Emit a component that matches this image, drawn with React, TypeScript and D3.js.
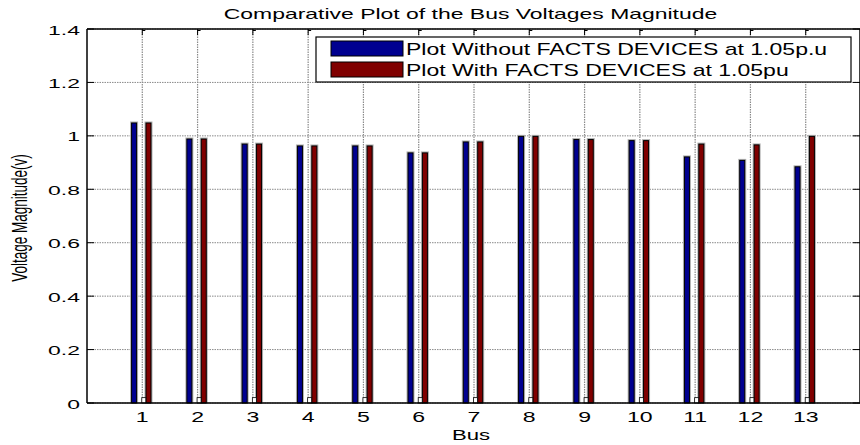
import React from "react";
import * as d3 from "d3";

const buses = [1, 2, 3, 4, 5, 6, 7, 8, 9, 10, 11, 12, 13];
const withoutFacts = [1.05, 0.99, 0.971, 0.964, 0.964, 0.938, 0.979, 1.0, 0.988, 0.984, 0.923, 0.91, 0.886];
const withFacts = [1.05, 0.99, 0.971, 0.964, 0.964, 0.938, 0.979, 1.0, 0.988, 0.984, 0.971, 0.968, 1.0];
const baseMarks = [0.02, 0.02, 0.02, 0.02, 0.02, 0.02, 0.02, 0.02, 0.02, 0.02, 0.02, 0.02, 0.02];
const yTicks = [0, 0.2, 0.4, 0.6, 0.8, 1, 1.2, 1.4];
const yTickLabels = ["0", "0.2", "0.4", "0.6", "0.8", "1", "1.2", "1.4"];
const seriesNames = ["Plot Without FACTS DEVICES at 1.05p.u", "Plot With FACTS DEVICES at 1.05pu"];
const seriesColors = ["#000090", "#800000"];

const W = 860;
const H = 445;
const left = 87, right = 861, top = 29, bottom = 403;
const FONT = "'Liberation Sans', Arial, sans-serif";

function SText(props: { x: number; y: number; sx: number; size: number; anchor?: string; children: React.ReactNode }) {
  const { x, y, sx, size, anchor = "start", children } = props;
  return (
    <g transform={`translate(${x},${y}) scale(${sx},1)`}>
      <text x={0} y={0} fontFamily={FONT} fontSize={size} textAnchor={anchor} fill="#000">
        {children}
      </text>
    </g>
  );
}

export default function App() {
  const x = d3.scaleLinear().domain([0, 14]).range([left, right]);
  const y = d3.scaleLinear().domain([0, 1.4]).range([bottom, top]);
  const barW = 6;
  const offBlue = -8.2;
  const offRed = 6.2;

  const bar = (cx: number, v: number, color: string, key: string) => {
    const y0 = y(v);
    const h = y(0) - y0;
    return (
      <g key={key}>
        <rect x={cx - barW / 2 - 1} y={y0 - 1} width={barW + 2} height={h + 1} fill="#b0b0b0" />
        <rect x={cx - barW / 2 + 0.5} y={y0 + 0.5} width={barW - 1} height={h - 0.5} fill={color} stroke="#000" strokeWidth={1} />
      </g>
    );
  };

  return (
    <svg width={W} height={H} style={{ position: "absolute", left: 0, top: 0, background: "#fff" }}>
      <rect x={0} y={0} width={W} height={H} fill="#fff" />
      {yTicks.map((t) => (
        <line key={"gy" + t} x1={left} x2={right} y1={y(t)} y2={y(t)} stroke="#8a8a8a" strokeWidth={1} strokeDasharray="1.5,1" />
      ))}
      {buses.map((b) => (
        <line key={"gx" + b} x1={x(b)} x2={x(b)} y1={top} y2={bottom} stroke="#8a8a8a" strokeWidth={1.2} strokeDasharray="1.5,1" />
      ))}
      {buses.map((b, i) => (
        <g key={"b" + b}>
          {bar(x(b) + offBlue, withoutFacts[i], seriesColors[0], "w" + b)}
          {bar(x(b) + offRed, withFacts[i], seriesColors[1], "f" + b)}
          <rect x={x(b) - 0.5} y={y(baseMarks[i])} width={4} height={y(0) - y(baseMarks[i])} fill="#fff" stroke="#000" strokeWidth={0.8} />
        </g>
      ))}
      <line x1={left} x2={right} y1={top} y2={top} stroke="#000" strokeWidth={1.5} />
      <line x1={left} x2={right} y1={bottom} y2={bottom} stroke="#000" strokeWidth={1.5} />
      <line x1={left} x2={left} y1={top} y2={bottom} stroke="#000" strokeWidth={1.5} />
      <line x1={right - 1} x2={right - 1} y1={top} y2={bottom} stroke="#000" strokeWidth={1.5} />
      {yTicks.map((t) => (
        <g key={"ty" + t}>
          <line x1={left} x2={left + 7} y1={y(t)} y2={y(t)} stroke="#000" />
          <line x1={right - 8} x2={right} y1={y(t)} y2={y(t)} stroke="#000" />
        </g>
      ))}
      {buses.map((b) => (
        <g key={"tx" + b}>
          <line x1={x(b)} x2={x(b)} y1={top} y2={top + 6} stroke="#000" />
          <line x1={x(b)} x2={x(b) + 3} y1={top + 1.5} y2={top + 1.5} stroke="#000" />
        </g>
      ))}
      {yTicks.map((t, i) => (
        <SText key={"ly" + t} x={80} y={y(t) + 5.5} sx={1.7} size={13.5} anchor="end">
          {yTickLabels[i]}
        </SText>
      ))}
      {buses.map((b) => (
        <SText key={"lx" + b} x={x(b)} y={422} sx={1.65} size={14} anchor="middle">
          {String(b)}
        </SText>
      ))}
      <SText x={470.5} y={18.5} sx={1.64} size={14} anchor="middle">
        Comparative Plot of the Bus Voltages Magnitude
      </SText>
      <SText x={471} y={440} sx={1.58} size={14} anchor="middle">
        Bus
      </SText>
      <g transform="translate(27,218) scale(1.6,1)">
        <text transform="rotate(-90)" fontFamily={FONT} fontSize={13.5} textAnchor="middle" fill="#000">
          Voltage Magnitude(v)
        </text>
      </g>
      <rect x={316} y={37} width={535} height={45} fill="#fff" stroke="#000" strokeWidth={1.2} />
      {seriesNames.map((name, i) => (
        <g key={"lg" + i}>
          <rect x={331} y={41 + i * 21} width={72} height={15} fill={seriesColors[i]} stroke="#000" strokeWidth={1} />
          <SText x={406} y={55 + i * 20.5} sx={1.44} size={16}>
            {name}
          </SText>
        </g>
      ))}
    </svg>
  );
}
